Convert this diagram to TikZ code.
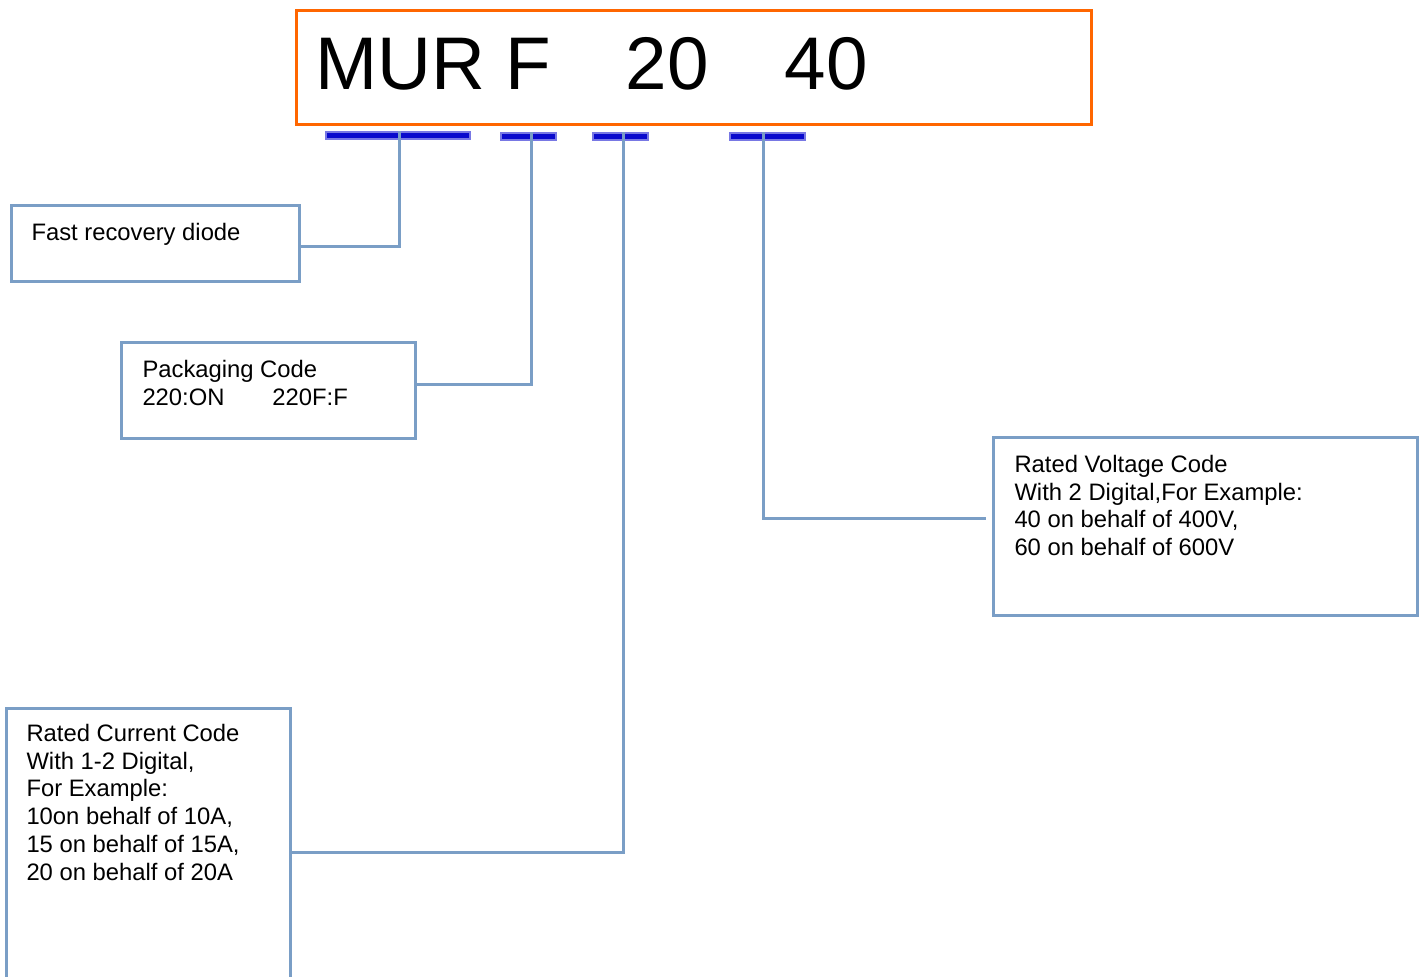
\documentclass[tikz,border=0pt]{standalone}
\usepackage{fontspec}
\setmainfont{Liberation Sans}
\definecolor{orng}{RGB}{255,102,0}
\definecolor{boxblue}{RGB}{122,158,198}
\definecolor{barblue}{RGB}{10,10,205}
\begin{document}
\begin{tikzpicture}[x=1pt,y=-1pt,
  lbl/.style={draw=boxblue,line width=3pt,rectangle,anchor=north west,font=\fontsize{23.8}{27.8}\selectfont},
  conn/.style={draw=boxblue,line width=3pt},
  bar/.style={fill=barblue,draw=barblue!55,line width=1.5pt,inner sep=0pt,minimum height=7pt},
]
\useasboundingbox (1,1.5) rectangle (1423,978.5);
% title box with code
\node[draw=orng,line width=3pt,anchor=north west,inner xsep=18.5pt,inner ysep=27.6pt,
      font=\fontsize{74.6}{80}\selectfont] (title) at (296,10)
  {\parbox[c][58.8pt][t]{758pt}{\makebox[311pt][l]{MUR F}\makebox[159pt][l]{20}40}};
% bars
\node[bar,minimum width=144pt] (bar1) at (399,137) {};
\node[bar,minimum width=55pt] (bar2) at (529.5,138) {};
\node[bar,minimum width=55pt] (bar3) at (621.5,138) {};
\node[bar,minimum width=75pt] (bar4) at (768.5,138) {};
% label boxes
\node[lbl,inner xsep=20pt,inner ysep=18pt] (b1) at (11,205)
  {\parbox[c][40pt][t]{248pt}{Fast recovery diode}};
\node[lbl,inner xsep=21pt,inner ysep=18pt] (b2) at (121,342)
  {\parbox[c][60pt][t]{252pt}{Packaging Code\\\makebox[130pt][l]{220:ON}220F:F}};
\node[lbl,inner xsep=21pt,inner ysep=18pt] (b3) at (993,437)
  {\parbox[c][142pt][t]{382pt}{Rated Voltage Code\\With 2 Digital,For Example:\\40 on behalf of 400V,\\60 on behalf of 600V}};
\node[lbl,inner xsep=20pt,inner ysep=16pt] (b4) at (6,708)
  {\parbox[c][258pt][t]{244pt}{Rated Current Code\\With 1-2 Digital,\\For Example:\\10on behalf of 10A,\\15 on behalf of 15A,\\20 on behalf of 20A}};
% turn points
\coordinate (k1) at (400,248);
\coordinate (k2) at (532,386);
\coordinate (k3) at (624,854);
\coordinate (k4) at (764,520);
% connectors
\draw[conn] (bar1.north -| k1) -- (k1) -- (k1 -| b1.east);
\draw[conn] (bar2.north -| k2) -- (k2) -- (k2 -| b2.east);
\draw[conn] (bar3.north -| k3) -- (k3) -- (k3 -| b4.east);
\draw[conn,shorten >=6pt] (bar4.north -| k4) -- (k4) -- (k4 -| b3.west);
\end{tikzpicture}
\end{document}
